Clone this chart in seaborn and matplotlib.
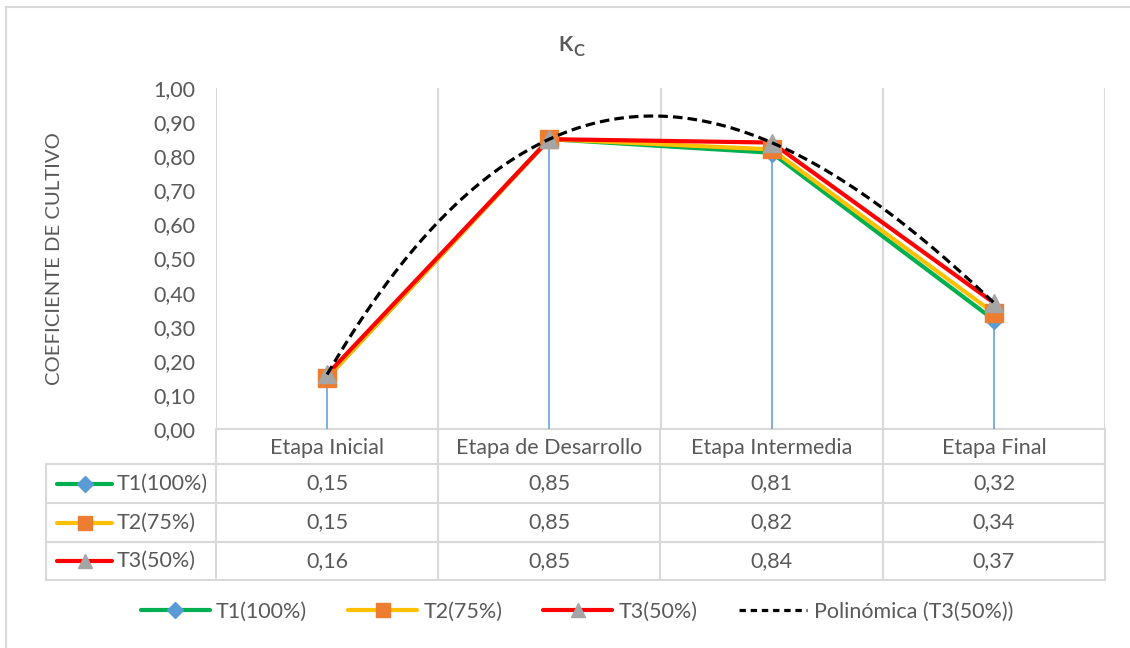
import numpy as np
import pandas as pd
import matplotlib
matplotlib.use("Agg")
import matplotlib.pyplot as plt
from matplotlib.lines import Line2D
import seaborn as sns

# Crop coefficient per growth stage
stages = ["Etapa Inicial", "Etapa de Desarrollo", "Etapa Intermedia", "Etapa Final"]
t1_values = [0.15, 0.85, 0.81, 0.32]
t2_values = [0.15, 0.85, 0.82, 0.34]
t3_values = [0.16, 0.85, 0.84, 0.37]
series_names = ["T1(100%)", "T2(75%)", "T3(50%)"]
trend_name = "Polinómica (T3(50%))"
y_ticks = [0.0, 0.1, 0.2, 0.3, 0.4, 0.5, 0.6, 0.7, 0.8, 0.9, 1.0]

sns.set_theme(style="white")
plt.rcParams["font.family"] = ["Lato", "DejaVu Sans"]

TEXT = "#595959"
GRID = "#d9d9d9"
FS = 15.5
line_colors = ["#00B050", "#FFC000", "#FF0000"]
marker_colors = ["#5B9BD5", "#ED7D31", "#A5A5A5"]
markers = ["D", "s", "^"]
marker_sizes = [9.5, 12.5, 12.5]
all_values = [t1_values, t2_values, t3_values]

W, H = 1130, 648
fig = plt.figure(figsize=(W / 100, H / 100), dpi=100)
fig.patch.set_facecolor("white")

# plot area in pixel coordinates
px_left, px_right, px_top, px_bottom = 216, 1105, 88, 429
ax = fig.add_axes([px_left / W, 1 - px_bottom / H,
                   (px_right - px_left) / W, (px_bottom - px_top) / H])

x = np.arange(len(stages))
df = pd.DataFrame({"pos": np.tile(x, 3),
                   "kc": t1_values + t2_values + t3_values,
                   "serie": np.repeat(series_names, len(stages))})

# vertical category gridlines
for b in np.arange(-0.5, len(stages) + 0.5, 1.0):
    ax.axvline(b, color=GRID, lw=1.5, zorder=0)

# drop lines from the highest point of each stage
tops = np.max(np.array(all_values), axis=0)
ax.vlines(x, 0, tops, color="#5B9BD5", lw=1.1, zorder=1)

# series lines
for i, name in enumerate(series_names):
    sub = df[df["serie"] == name]
    sns.lineplot(data=sub, x="pos", y="kc", ax=ax, color=line_colors[i],
                 lw=3.0, zorder=2, legend=False, estimator=None, sort=False)
# series markers
for i, name in enumerate(series_names):
    sub = df[df["serie"] == name]
    ax.plot(sub["pos"], sub["kc"], ls="none", marker=markers[i],
            ms=marker_sizes[i], mfc=marker_colors[i], mec=marker_colors[i],
            zorder=3 + i * 0.1)

# polynomial trendline of T3
sns.regplot(x=x + 0.0, y=np.array(t3_values), order=3, ci=None, scatter=False,
            ax=ax, line_kws=dict(color="black", lw=2.3, dashes=(3, 1.6), zorder=5))

ax.set_xlim(-0.5, len(stages) - 0.5)
ax.set_ylim(0, 1.0)
ax.set_yticks(y_ticks)
ax.set_yticklabels([f"{v:.2f}".replace(".", ",") for v in y_ticks],
                   fontsize=FS, color=TEXT)
ax.tick_params(axis="y", length=0, pad=15)
ax.set_xticks([])
ax.set_xlabel("")
ax.set_ylabel("")
for s in ax.spines.values():
    s.set_visible(False)
ax.axhline(0, color=GRID, lw=1.5, zorder=0, clip_on=False)

# ---- data table below the plot, drawn in figure pixel coordinates ----
def fx(px):
    return px / W

def fy(py):
    return 1 - py / H

col_edges = [216, 438, 660, 883, 1105]
row_edges = [429, 464, 503, 542, 580]
head_left = 46

for ye in row_edges[1:]:
    fig.add_artist(Line2D([fx(head_left), fx(px_right)], [fy(ye), fy(ye)],
                          color=GRID, lw=1.5))
for xe in col_edges:
    fig.add_artist(Line2D([fx(xe), fx(xe)], [fy(row_edges[0]), fy(row_edges[-1])],
                          color=GRID, lw=1.5))
fig.add_artist(Line2D([fx(head_left), fx(head_left)],
                      [fy(row_edges[1]), fy(row_edges[-1])], color=GRID, lw=1.5))

for j, st in enumerate(stages):
    cx = (col_edges[j] + col_edges[j + 1]) / 2
    fig.text(fx(cx), fy((row_edges[0] + row_edges[1]) / 2 + 1), st,
             ha="center", va="center", fontsize=FS, color=TEXT)

for i, name in enumerate(series_names):
    cy = (row_edges[i + 1] + row_edges[i + 2]) / 2
    fig.add_artist(Line2D([fx(57), fx(112)], [fy(cy), fy(cy)],
                          color=line_colors[i], lw=3.0))
    fig.add_artist(Line2D([fx(85)], [fy(cy)], ls="none", marker=markers[i],
                          ms=marker_sizes[i] * 0.85, mfc=marker_colors[i],
                          mec=marker_colors[i]))
    fig.text(fx(117), fy(cy), name, ha="left", va="center", fontsize=FS, color=TEXT)
    for j, v in enumerate(all_values[i]):
        cx = (col_edges[j] + col_edges[j + 1]) / 2
        fig.text(fx(cx), fy(cy), f"{v:.2f}".replace(".", ","),
                 ha="center", va="center", fontsize=FS, color=TEXT)

# ---- title with subscript ----
fig.text(fx(558), fy(51), "K", ha="left", va="baseline", fontsize=15,
         fontweight="bold", color=TEXT)
fig.text(fx(573), fy(56), "C", ha="left", va="baseline", fontsize=12,
         fontweight="bold", color=TEXT)

# ---- y axis title ----
fig.text(fx(55), fy(259), "COEFICIENTE DE CULTIVO", rotation=90,
         ha="center", va="center", fontsize=14.6, color=TEXT)

# ---- bottom legend ----
handles = [Line2D([], [], color=line_colors[i], lw=3.0, marker=markers[i],
                  ms=marker_sizes[i] * 0.85, mfc=marker_colors[i],
                  mec=marker_colors[i]) for i in range(3)]
handles.append(Line2D([], [], color="black", lw=2.3, dashes=(2, 1.5)))
leg = fig.legend(handles, series_names + [trend_name], loc="center",
                 bbox_to_anchor=(fx(577), fy(612)), ncol=4, frameon=False,
                 fontsize=FS, handlelength=3.2, handletextpad=0.3,
                 columnspacing=1.9, numpoints=1, borderpad=0, borderaxespad=0)
for t in leg.get_texts():
    t.set_color(TEXT)

# chart frame (top and left edges)
fig.add_artist(Line2D([fx(6), fx(1130)], [fy(7), fy(7)], color=GRID, lw=1.5))
fig.add_artist(Line2D([fx(6), fx(6)], [fy(7), fy(648)], color=GRID, lw=1.5))

fig.savefig("out.png", dpi=100, facecolor="white")
